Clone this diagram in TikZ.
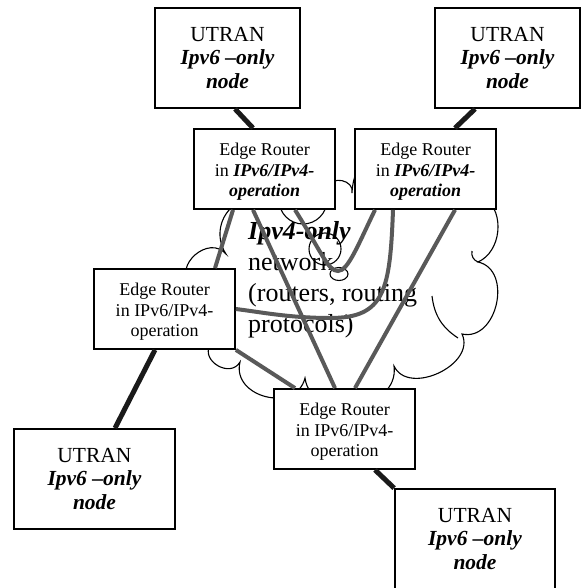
\documentclass[tikz,border=0pt]{standalone}
\usepackage{fontspec}
\setmainfont{Liberation Serif}
\usepackage{tikz}
\definecolor{linkgray}{HTML}{595959}
\definecolor{trunkblack}{HTML}{1A1A1A}

\begin{document}
\begin{tikzpicture}[x=1pt,y=-1pt,
  utran/.style={draw,line width=1.8pt,fill=white,align=center,inner sep=0pt,minimum height=100pt,font=\fontsize{21.5}{23.5}\selectfont},
  router/.style={draw,line width=1.8pt,fill=white,align=center,inner sep=0pt,minimum width=141pt,minimum height=80pt,font=\fontsize{18}{20.4}\selectfont},
  link/.style={linkgray,line width=4pt},
  uplink/.style={trunkblack,line width=5pt},
  cloudarc/.style={bend left=90,looseness=#1},
  cloudarc/.default=1.5]
  \useasboundingbox (0,0) rectangle (583,588);

  % the IPv4 cloud
  \draw[line width=1.1pt,fill=white] (190,285) to[cloudarc=1.4] (226,254) to[bend left=45] (236,204)
    to[cloudarc] (328,188) to[cloudarc=1.4] (352,193) to[cloudarc] (485,198)
    to[bend left=60] (478,262) to[cloudarc=1.25] (462,334) to[cloudarc=1.15] (394,366)
    to[cloudarc=1.3] (305,378) to[cloudarc=1.4] (240,362) to[cloudarc=1.4] (210,345)
    to[cloudarc=1.2] cycle;
  \draw[line width=1.1pt] (458,338) to[bend left=25] (432,296);
  \draw[line width=1.1pt] (478,262) to[bend left=40] (472,251);
  \draw[line width=1.1pt] (303,200) circle (24);
  \draw[line width=1.1pt] (325,249) circle (16);
  \draw[line width=1.1pt] (339,274) ellipse (9 and 6.5);

  \node[anchor=north west,inner sep=0pt,align=left,font=\fontsize{26}{31}\selectfont] (net) at (248,221)
    {\textbf{\textit{Ipv4-only}}\\network\\(routers, routing\\protocols)};

  % nodes
  \node[utran,minimum width=145pt] (utl) at (227.5,58) {UTRAN\\\textbf{\textit{Ipv6 –only}}\\\textbf{\textit{node}}};
  \node[utran,minimum width=145pt] (utr) at (507.5,58) {UTRAN\\\textbf{\textit{Ipv6 –only}}\\\textbf{\textit{node}}};
  \node[utran,minimum width=161pt] (ubl) at (94.5,479) {UTRAN\\\textbf{\textit{Ipv6 –only}}\\\textbf{\textit{node}}};
  \node[utran,minimum width=160pt] (ubr) at (475,539) {UTRAN\\\textbf{\textit{Ipv6 –only}}\\\textbf{\textit{node}}};
  \node[router] (er1) at (264.5,169) {\rule{0pt}{18pt}Edge Router\\in \textbf{\textit{IPv6/IPv4-}}\\\textbf{\textit{operation}}};
  \node[router] (er2) at (425.5,169) {\rule{0pt}{18pt}Edge Router\\in \textbf{\textit{IPv6/IPv4-}}\\\textbf{\textit{operation}}};
  \node[router] (er3) at (164.5,309) {\rule{0pt}{18pt}Edge Router\\in IPv6/IPv4-\\operation};
  \node[router] (er4) at (344.5,429) {\rule{0pt}{18pt}Edge Router\\in IPv6/IPv4-\\operation};

  % links through the cloud
  \draw[link] ([xshift=-31.5pt]er1.south) -- ([xshift=50.5pt]er3.north);
  \draw[link] ([xshift=-11.5pt]er1.south) -- ([xshift=-9.5pt]er4.north);
  \draw[link] ([xshift=30.5pt]er1.south) .. controls (322,253) and (328,271) .. (338,271)
    .. controls (348,271) and (358,245) .. ([xshift=-50.5pt]er2.south);
  \draw[link] ([xshift=-32.5pt]er2.south) .. controls (390,290) and (385,318) .. (330,318)
    .. controls (290,318) and (260,312) .. (er3.east);
  \draw[link] ([xshift=29.5pt]er2.south) -- ([xshift=10.5pt]er4.north);
  \draw[link] (er3.south east) -- ([xshift=-49.5pt]er4.north);

  % access links
  \draw[uplink] ([xshift=7.5pt]utl.south) -- ([xshift=-11.5pt]er1.north);
  \draw[uplink] ([xshift=-32.5pt]utr.south) -- ([xshift=29.5pt]er2.north);
  \draw[uplink] ([xshift=-9.5pt]er3.south) -- ([xshift=20.5pt]ubl.north);
  \draw[uplink] ([xshift=30.5pt]er4.south) -- (ubr.north west);
\end{tikzpicture}
\end{document}
